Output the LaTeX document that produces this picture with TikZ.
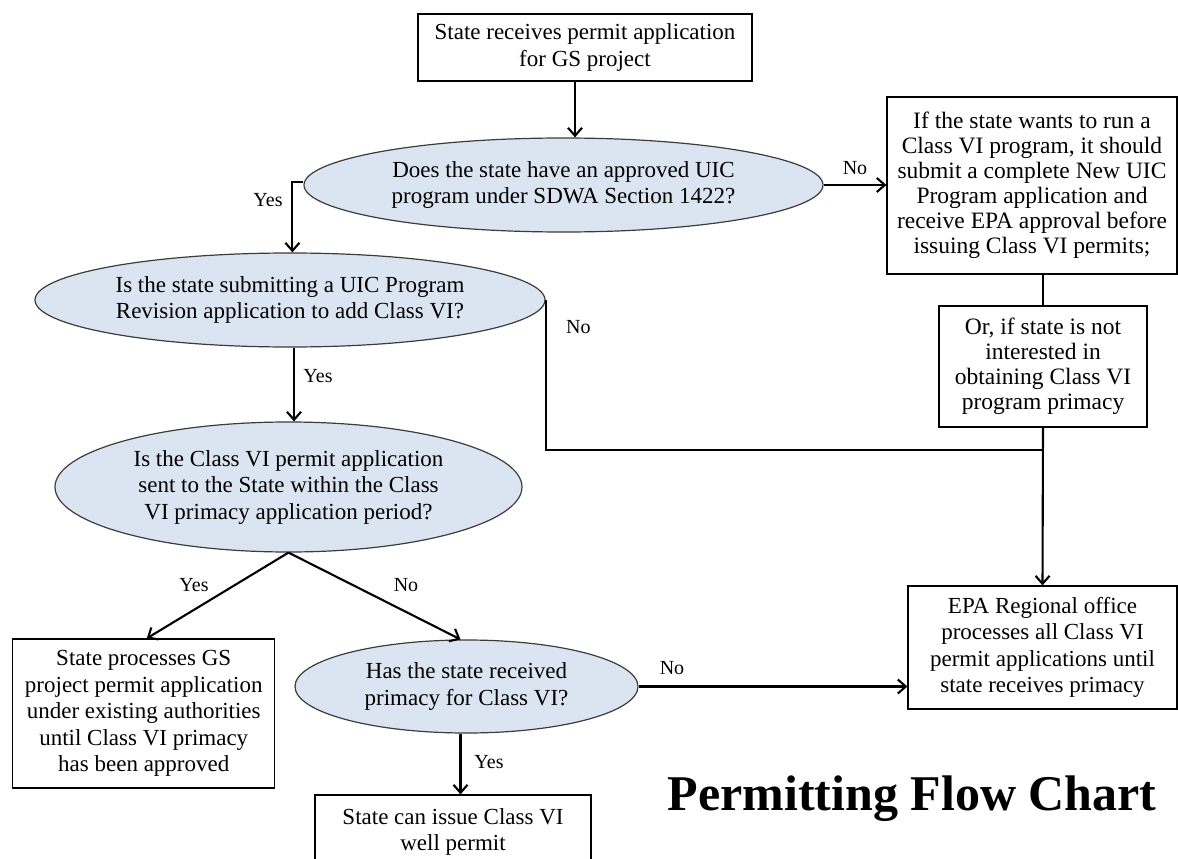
\documentclass[tikz,border=0pt]{standalone}
\usepackage{fontspec}
\setmainfont{Liberation Serif}
\usetikzlibrary{shapes.geometric,arrows.meta}
\definecolor{ellfill}{RGB}{219,229,241}
\definecolor{ellborder}{RGB}{60,60,60}
\newcommand\nodefont{\fontsize{23}{26.5}\selectfont}
\newcommand\tightfont{\fontsize{23.5}{25}\selectfont}
\newcommand\labelfont{\fontsize{20}{22}\selectfont}
\begin{document}
\begin{tikzpicture}[x=1pt,y=-1pt,
  box/.style={draw=black, line width=1.2pt, align=center, inner sep=0pt, font=\nodefont},
  ell/.style={ellipse, draw=ellborder, fill=ellfill, line width=1.2pt, align=center, inner sep=0pt, font=\nodefont},
  conn/.style={line width=2.1pt, draw=black},
  arr/.style={conn, -{Straight Barb[length=8pt,width=14pt]}},
  lbl/.style={font=\labelfont, inner sep=0pt}
]
\useasboundingbox (0,0) rectangle (1178,859);

% nodes
\node[box, minimum width=334pt, minimum height=67pt] (top) at (585,47.5)
  {State receives permit application\\for GS project};
\node[ell, minimum width=519pt, minimum height=94pt] (e1) at (563.5,185)
  {Does the state have an approved UIC\\program under SDWA Section 1422?};
\node[box, font=\tightfont, minimum width=290pt, minimum height=177pt] (ifb) at (1032,185.5)
  {If the state wants to run a\\Class VI program, it should\\submit a complete New UIC\\Program application and\\receive EPA approval before\\issuing Class VI permits;};
\node[box, font=\tightfont, minimum width=208pt, minimum height=121pt] (orb) at (1043,366.5)
  {Or, if state is not\\interested in\\obtaining Class VI\\program primacy};
\node[ell, minimum width=510pt, minimum height=94pt] (e2) at (290,300)
  {Is the state submitting a UIC Program\\Revision application to add Class VI?};
\node[ell, minimum width=467pt, minimum height=130pt] (e3) at (288.5,487)
  {Is the Class VI permit application\\sent to the State within the Class\\VI primacy application period?};
\node[box, minimum width=262pt, minimum height=149pt] (sp) at (143.75,713.5)
  {State processes GS\\project permit application\\under existing authorities\\until Class VI primacy\\has been approved};
\node[ell, minimum width=343pt, minimum height=93pt] (e4) at (466.5,686.5)
  {Has the state received\\primacy for Class VI?};
\node[box, minimum width=269pt, minimum height=123pt] (epa) at (1042.5,647.5)
  {EPA Regional office\\processes all Class VI\\permit applications until\\state receives primacy};
\node[box, minimum width=276pt, minimum height=74pt] (sc) at (453,832)
  {State can issue Class VI\\well permit};
\node[font=\fontsize{50}{56}\selectfont\bfseries, anchor=base, inner sep=0pt] (title) at (912,810)
  {Permitting Flow Chart};

% connectors
\draw[arr] ([xshift=-10pt]top.south) -- ([xshift=-10pt]top.south |- e1.north);
\draw[arr] (e1.east) -- (e1.east -| ifb.west) node[lbl, pos=0.5, above=9pt] (no1) {No};
\draw[conn] (ifb.south -| orb.north) -- (orb.north);
\coordinate (j) at (orb.south |- 0,450);
\draw[arr] (orb.south) -- (epa.north);
\draw[conn] (e2.east) |- (j);
\node[lbl, anchor=west] (no2) at (566,327) {No};
\draw[arr] ([yshift=3pt]e1.west) -- ++(-11,0) coordinate (c1) -- (c1 |- e2.north);
\node[lbl] (yes1) at (268,200) {Yes};
\draw[arr] ([xshift=4pt]e2.south) -- ([xshift=4pt]e2.south |- e3.north);
\node[lbl] (yes2) at (318,376) {Yes};
\draw[arr] (e3.south) -- ([xshift=3pt]sp.north);
\draw[arr] (e3.south) -- ([xshift=-6pt]e4.north);
\node[lbl] (yes3) at (194,585) {Yes};
\node[lbl] (no3) at (406,585) {No};
\draw[arr] (e4.east) -- (e4.east -| epa.west);
\node[lbl] (no4) at (672,668) {No};
\draw[arr] ([xshift=-6pt]e4.south) -- ([xshift=-6pt]e4.south |- sc.north);
\node[lbl] (yes4) at (489,762) {Yes};
\end{tikzpicture}
\end{document}
